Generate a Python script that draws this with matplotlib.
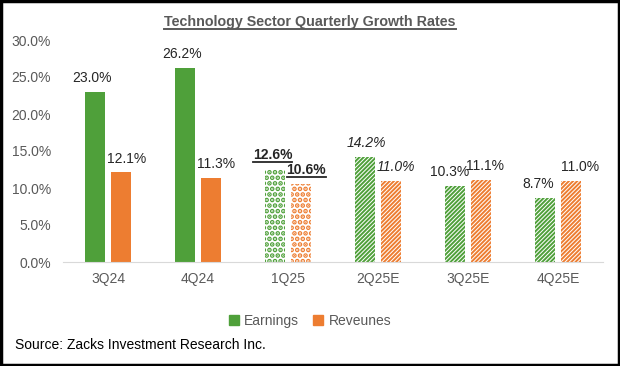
import numpy as np
import matplotlib.pyplot as plt
from matplotlib.patches import Rectangle
from matplotlib.lines import Line2D

plt.rcParams['font.family'] = ['Liberation Sans', 'DejaVu Sans']

quarters = ['3Q24', '4Q24', '1Q25', '2Q25E', '3Q25E', '4Q25E']
earnings = [23.0, 26.2, 12.6, 14.2, 10.3, 8.7]
revenues = [12.1, 11.3, 10.6, 11.0, 11.1, 11.0]
hatches = [None, None, '...', '////////', '////////', '////////']
label_styles = ['normal', 'normal', 'bold', 'italic', 'normal', 'normal']
# horizontal nudges of the value labels (points), as in the source chart
earn_nudge = [-2, -2, -2, 1, -4, -5]
rev_nudge = [4, 4, 4, 4, 3, 7]

GREEN = '#4fa03a'
ORANGE = '#ed7d31'

fig = plt.figure(figsize=(6.2, 3.66), dpi=100)
ax = fig.add_axes([63/620, 1-262/366, 540/620, 222/366])

x = np.arange(len(quarters))
w = 0.22
off = 0.142

def draw(vals, xs, color):
    out = []
    for xi, v, h in zip(xs, vals, hatches):
        if h is None:
            b = ax.bar(xi, v, w, color=color, linewidth=0)
        else:
            plt.rcParams['hatch.linewidth'] = 2.4 if '.' in h else 1.4
            b = ax.bar(xi, v, w, facecolor='white', edgecolor=color, hatch=h, linewidth=0)
        out.append(b[0])
    return out

eb = draw(earnings, x - off, GREEN)
rb = draw(revenues, x + off, ORANGE)

ax.set_xlim(-0.5, len(quarters) - 0.5)
ax.set_ylim(0, 30)
ax.set_yticks(np.arange(0, 31, 5))
ax.set_yticklabels(['%.1f%%' % t for t in np.arange(0, 31, 5)], color='#595959', fontsize=10)
ax.set_xticks(x)
ax.set_xticklabels(quarters, color='#595959', fontsize=10)
ax.tick_params(length=0)
ax.tick_params(axis='x', pad=7)
ax.tick_params(axis='y', pad=8.5)
for s in ['top', 'right', 'left']:
    ax.spines[s].set_visible(False)
ax.spines['bottom'].set_color('#d9d9d9')

labels = []
for bars, vals, nudges in [(eb, earnings, earn_nudge), (rb, revenues, rev_nudge)]:
    for b, v, st, n in zip(bars, vals, label_styles, nudges):
        t = ax.annotate('%.1f%%' % v, (b.get_x() + b.get_width()/2, v), xytext=(n, 5),
                        textcoords='offset points', ha='center', va='bottom',
                        fontsize=10, color='#262626',
                        fontweight='bold' if st == 'bold' else 'normal',
                        fontstyle='italic' if st == 'italic' else 'normal')
        labels.append((t, st))

title = fig.text(0.5, 1 - 22/366, 'Technology Sector Quarterly Growth Rates', ha='center', va='center',
                 fontsize=10.3, fontweight='bold', color='#595959')

fig.legend(handles=[Rectangle((0, 0), 1, 1, color=GREEN), Rectangle((0, 0), 1, 1, color=ORANGE)],
           labels=['Earnings', 'Reveunes'], loc='center', bbox_to_anchor=(0.5, 1 - 321/366),
           ncol=2, frameon=False, fontsize=10, handlelength=0.7, handleheight=0.7,
           handletextpad=0.4, columnspacing=1.0, labelcolor='#595959')

fig.text(15/620, 1 - 345/366, 'Source: Zacks Investment Research Inc.', ha='left', va='center',
         fontsize=10, color='black')

fig.canvas.draw()
renderer = fig.canvas.get_renderer()

def underline(t, lw=1.3):
    bb = t.get_window_extent(renderer).transformed(fig.transFigure.inverted())
    fig.add_artist(Line2D([bb.x0, bb.x1], [bb.y0 - 0.001, bb.y0 - 0.001],
                          color=t.get_color(), lw=lw, transform=fig.transFigure))

underline(title, 1.4)
for t, st in labels:
    if st == 'bold':
        underline(t, 1.3)

fig.add_artist(Rectangle((0.002, 0.003), 0.996, 0.994, transform=fig.transFigure,
                         fill=False, edgecolor='black', linewidth=2.5))

fig.savefig('out.png', dpi=100)
